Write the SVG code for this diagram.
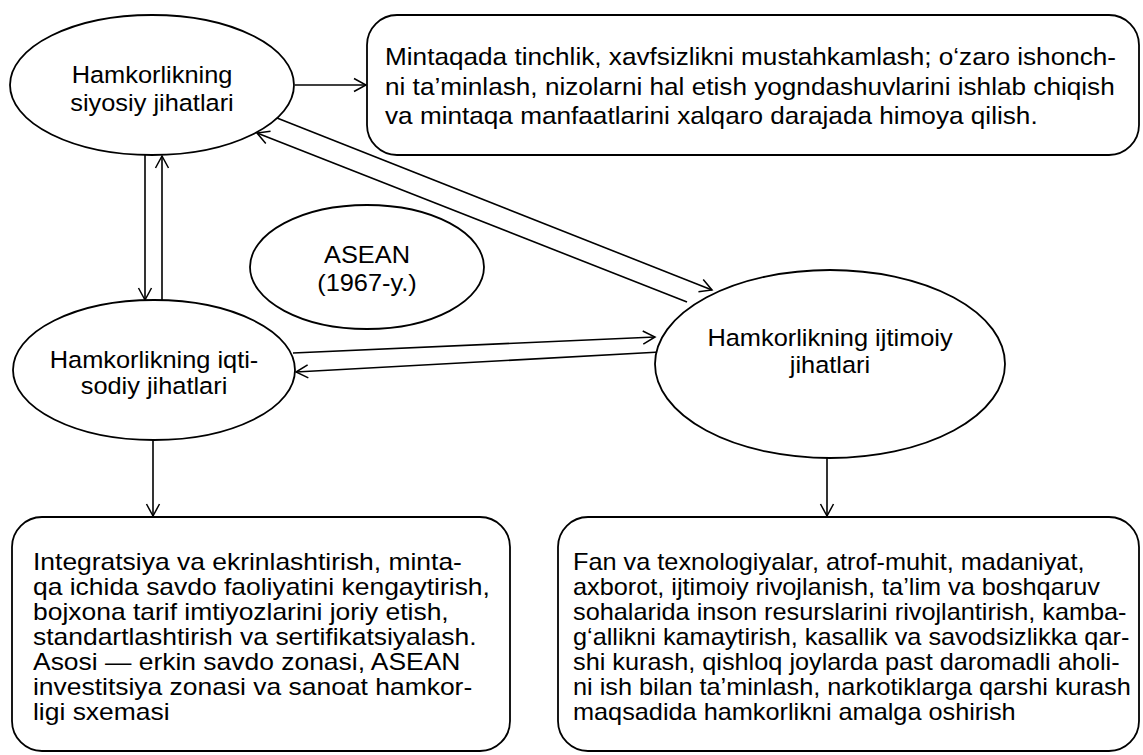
<svg xmlns="http://www.w3.org/2000/svg" width="1143" height="755" viewBox="0 0 1143 755">
<defs>
<marker id="arr" markerUnits="userSpaceOnUse" markerWidth="16" markerHeight="16" refX="13" refY="8" orient="auto">
<path d="M1,1.5 L13,8 L1,14.5" fill="none" stroke="#000" stroke-width="1.5"/>
</marker>
</defs>
<style>
.shape{fill:#fff;stroke:#000;stroke-width:1.8}
.t{font-family:"Liberation Sans",Arial,sans-serif;font-size:23.5px;fill:#000}
.b{font-family:"Liberation Sans",Arial,sans-serif;font-size:23px;fill:#000}
.c{text-anchor:middle}
.ln{fill:none;stroke:#000;stroke-width:1.6;marker-end:url(#arr)}
.pl{fill:none;stroke:#000;stroke-width:1.6}
</style>
<rect width="1143" height="755" fill="#fff"/>
<g id="connectors">
<line class="ln" x1="295" y1="85" x2="366" y2="85"/>
<line class="ln" x1="145" y1="155" x2="145" y2="300"/>
<line class="ln" x1="162" y1="300" x2="162" y2="156"/>
<line class="ln" x1="277" y1="118" x2="712" y2="290"/>
<line class="ln" x1="687" y1="302" x2="257" y2="133"/>
<line class="ln" x1="293" y1="353" x2="655" y2="337"/>
<line class="ln" x1="660" y1="352" x2="296" y2="372"/>
<line class="ln" x1="153" y1="440" x2="153" y2="516"/>
<line class="ln" x1="827" y1="458" x2="827" y2="516"/>
</g>
<g id="siyosiy">
<ellipse class="shape" cx="152" cy="85" rx="142" ry="70"/>
<g transform="translate(152,0) scale(1.08,1)">
<text class="t c" x="0" y="83">Hamkorlikning</text>
<text class="t c" x="0" y="111">siyosiy jihatlari</text>
</g>
</g>
<g id="siyosiy-box">
<rect class="shape" x="367" y="15" width="772" height="140" rx="30"/>
<g transform="translate(385,0) scale(1.09,1)" class="b">
<text class="b" x="0" y="65" style="font-size:24px">Mintaqada tinchlik, xavfsizlikni mustahkamlash; o‘zaro ishonch-</text>
<text class="b" x="0" y="95" style="font-size:24px">ni ta’minlash, nizolarni hal etish yogndashuvlarini ishlab chiqish</text>
<text class="b" x="0" y="124" style="font-size:24px">va mintaqa manfaatlarini xalqaro darajada himoya qilish.</text>
</g>
</g>
<g id="asean">
<ellipse class="shape" cx="367" cy="267" rx="117" ry="62"/>
<g transform="translate(367,0) scale(1.08,1)">
<text class="t c" x="0" y="263">ASEAN</text>
<text class="t c" x="0" y="291">(1967-y.)</text>
</g>
</g>
<g id="iqtisodiy">
<ellipse class="shape" cx="154" cy="370" rx="141" ry="70"/>
<g transform="translate(154,0) scale(1.08,1)">
<text class="t c" x="0" y="368">Hamkorlikning iqti-</text>
<text class="t c" x="0" y="394">sodiy jihatlari</text>
</g>
</g>
<g id="ijtimoiy">
<ellipse class="shape" cx="830" cy="364" rx="175" ry="94"/>
<g transform="translate(830,0) scale(1.08,1)">
<text class="t c" x="0" y="346">Hamkorlikning ijtimoiy</text>
<text class="t c" x="0" y="373">jihatlari</text>
</g>
</g>
<g id="iqtisodiy-box">
<rect class="shape" x="12" y="517" width="498" height="234" rx="30"/>
<g transform="translate(33,0) scale(1.15,1)">
<text class="b" x="0" y="570">Integratsiya va ekrinlashtirish, minta-</text>
<text class="b" x="0" y="595">qa ichida savdo faoliyatini kengaytirish,</text>
<text class="b" x="0" y="620">bojxona tarif imtiyozlarini joriy etish,</text>
<text class="b" x="0" y="645">standartlashtirish va sertifikatsiyalash.</text>
<text class="b" x="0" y="670">Asosi — erkin savdo zonasi, ASEAN</text>
<text class="b" x="0" y="695">investitsiya zonasi va sanoat hamkor-</text>
<text class="b" x="0" y="720">ligi sxemasi</text>
</g>
</g>
<g id="ijtimoiy-box">
<rect class="shape" x="558" y="517" width="581" height="234" rx="30"/>
<g transform="translate(573,0) scale(1.1,1)">
<text class="b" x="0" y="570">Fan va texnologiyalar, atrof-muhit, madaniyat,</text>
<text class="b" x="0" y="595">axborot, ijtimoiy rivojlanish, ta’lim va boshqaruv</text>
<text class="b" x="0" y="620">sohalarida inson resurslarini rivojlantirish, kamba-</text>
<text class="b" x="0" y="645">g‘allikni kamaytirish, kasallik va savodsizlikka qar-</text>
<text class="b" x="0" y="670">shi kurash, qishloq joylarda past daromadli aholi-</text>
<text class="b" x="0" y="695">ni ish bilan ta’minlash, narkotiklarga qarshi kurash</text>
<text class="b" x="0" y="720">maqsadida hamkorlikni amalga oshirish</text>
</g>
</g>
</svg>
